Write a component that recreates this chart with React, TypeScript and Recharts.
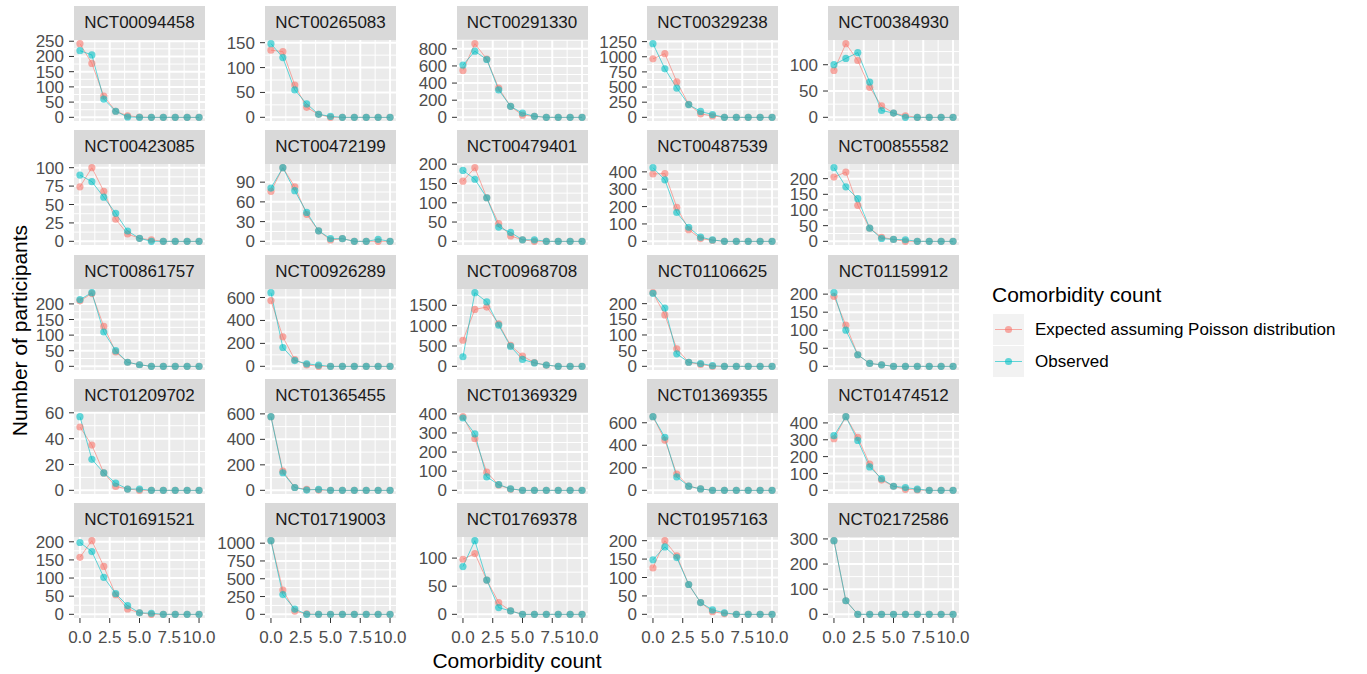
import React from 'react';
import { LineChart, Line, XAxis, YAxis, CartesianGrid } from 'recharts';

// comorbidity count on the x axis (same for every trial)
const comorbidityCounts = [0, 1, 2, 3, 4, 5, 6, 7, 8, 9, 10];
const xTicks = [0, 2.5, 5, 7.5, 10];
const xMinorTicks = [1.25, 3.75, 6.25, 8.75];

// expected (Poisson) vs observed participant counts, one pair per trial
const exp00094458 = [242, 177, 70, 20, 5, 1, 0, 0, 0, 0, 0];
const obs00094458 = [219, 205, 60, 20, 1, 0, 0, 0, 0, 0, 0];
const ticks00094458 = [0, 50, 100, 150, 200, 250];

const exp00265083 = [135, 132, 65, 20, 6, 0, 0, 0, 0, 0, 0];
const obs00265083 = [148, 120, 55, 27, 6, 2, 0, 0, 0, 0, 0];
const ticks00265083 = [0, 50, 100, 150];

const exp00291330 = [548, 860, 680, 340, 128, 25, 12, 0, 0, 0, 0];
const obs00291330 = [610, 772, 675, 320, 128, 48, 12, 0, 0, 0, 0];
const ticks00291330 = [0, 200, 400, 600, 800];

const exp00329238 = [966, 1051, 585, 215, 57, 23, 0, 0, 0, 0, 0];
const obs00329238 = [1216, 801, 483, 210, 97, 45, 0, 0, 0, 0, 0];
const ticks00329238 = [0, 250, 500, 750, 1000, 1250];

const exp00384930 = [89, 140, 108, 57, 22, 8, 3, 0, 0, 0, 0];
const obs00384930 = [100, 112, 123, 67, 13, 8, 0, 0, 0, 0, 0];
const ticks00384930 = [0, 50, 100];

const exp00423085 = [74, 100, 68, 30, 10, 4, 2, 0, 0, 0, 0];
const obs00423085 = [90, 81, 60, 38, 14, 4, 0, 0, 0, 0, 0];
const ticks00423085 = [0, 25, 50, 75, 100];

const exp00472199 = [76, 112, 83, 41, 16, 2, 4, 0, 0, 0, 0];
const obs00472199 = [81, 112, 77, 44, 16, 4, 4, 0, 0, 3, 0];
const ticks00472199 = [0, 30, 60, 90];

const exp00479401 = [156, 191, 113, 46, 14, 4, 0, 0, 0, 0, 0];
const obs00479401 = [184, 161, 113, 37, 23, 4, 4, 0, 0, 0, 0];
const ticks00479401 = [0, 50, 100, 150, 200];

const exp00487539 = [388, 390, 196, 67, 16, 6, 0, 0, 0, 0, 0];
const obs00487539 = [424, 354, 166, 81, 24, 8, 0, 0, 0, 0, 0];
const ticks00487539 = [0, 100, 200, 300, 400];

const exp00855582 = [205, 221, 115, 42, 13, 6, 0, 0, 0, 0, 0];
const obs00855582 = [235, 174, 136, 42, 9, 6, 5, 0, 0, 0, 0];
const ticks00855582 = [0, 50, 100, 150, 200];

const exp00861757 = [210, 233, 128, 46, 13, 5, 0, 0, 0, 0, 0];
const obs00861757 = [214, 236, 110, 50, 13, 5, 0, 0, 0, 0, 0];
const ticks00861757 = [0, 50, 100, 150, 200];

const exp00926289 = [573, 257, 58, 12, 0, 0, 0, 0, 0, 0, 0];
const obs00926289 = [642, 164, 50, 22, 10, 0, 0, 0, 0, 0, 0];
const ticks00926289 = [0, 200, 400, 600];

const exp00968708 = [641, 1400, 1458, 1045, 514, 253, 90, 28, 0, 0, 0];
const obs00968708 = [236, 1812, 1585, 1012, 489, 169, 84, 30, 0, 0, 0];
const ticks00968708 = [0, 500, 1000, 1500];

const exp01106625 = [235, 164, 56, 13, 6, 0, 0, 0, 0, 0, 0];
const obs01106625 = [233, 186, 40, 13, 9, 2, 0, 0, 0, 0, 0];
const ticks01106625 = [0, 50, 100, 150, 200];

const exp01159912 = [194, 114, 32, 8, 4, 0, 0, 0, 0, 0, 0];
const obs01159912 = [204, 100, 32, 8, 4, 0, 0, 0, 0, 0, 0];
const ticks01159912 = [0, 50, 100, 150, 200];

const exp01209702 = [49, 35, 13.5, 3, 1, 0, 0, 0, 0, 0, 0];
const obs01209702 = [57, 24, 13.5, 5.5, 1, 1, 0, 0, 0, 0, 0];
const ticks01209702 = [0, 20, 40, 60];

const exp01365455 = [578, 150, 22, 8, 2, 0, 0, 0, 0, 0, 0];
const obs01365455 = [578, 138, 22, 2, 8, 0, 0, 0, 0, 0, 0];
const ticks01365455 = [0, 200, 400, 600];

const exp01369329 = [385, 270, 95, 28, 6, 0, 0, 0, 0, 0, 0];
const obs01369329 = [378, 295, 70, 30, 8, 0, 0, 0, 0, 0, 0];
const ticks01369329 = [0, 100, 200, 300, 400];

const exp01369355 = [654, 446, 144, 37, 12, 0, 0, 0, 0, 0, 0];
const obs01369355 = [654, 471, 119, 37, 12, 0, 0, 0, 0, 0, 0];
const ticks01369355 = [0, 200, 400, 600];

const exp01474512 = [306, 437, 314, 155, 61, 24, 6, 2, 0, 0, 0];
const obs01474512 = [324, 437, 296, 139, 69, 24, 16, 7, 0, 0, 0];
const ticks01474512 = [0, 100, 200, 300, 400];

const exp01691521 = [157, 203, 132, 54, 15, 4, 0, 0, 0, 0, 0];
const obs01691521 = [198, 173, 102, 57, 24, 4, 3, 0, 0, 0, 0];
const ticks01691521 = [0, 50, 100, 150, 200];

const exp01719003 = [1035, 342, 45, 5, 0, 0, 0, 0, 0, 0, 0];
const obs01719003 = [1035, 277, 74, 0, 0, 0, 0, 0, 0, 0, 0];
const ticks01719003 = [0, 250, 500, 750, 1000];

const exp01769378 = [98, 108, 61, 21, 6, 0, 0, 0, 0, 0, 0];
const obs01769378 = [85, 131, 61, 12, 6, 0, 0, 0, 0, 0, 0];
const ticks01769378 = [0, 50, 100];

const exp01957163 = [126, 200, 159, 81, 32, 7, 2, 0, 0, 0, 0];
const obs01957163 = [148, 183, 154, 81, 32, 12, 4, 0, 0, 0, 0];
const ticks01957163 = [0, 50, 100, 150, 200];

const exp02172586 = [293, 54, 0, 0, 0, 0, 0, 0, 0, 0, 0];
const obs02172586 = [293, 54, 0, 0, 0, 0, 0, 0, 0, 0, 0];
const ticks02172586 = [0, 100, 200, 300];

const trials = [
  { id: 'NCT00094458', expected: exp00094458, observed: obs00094458, ticks: ticks00094458 },
  { id: 'NCT00265083', expected: exp00265083, observed: obs00265083, ticks: ticks00265083 },
  { id: 'NCT00291330', expected: exp00291330, observed: obs00291330, ticks: ticks00291330 },
  { id: 'NCT00329238', expected: exp00329238, observed: obs00329238, ticks: ticks00329238 },
  { id: 'NCT00384930', expected: exp00384930, observed: obs00384930, ticks: ticks00384930 },
  { id: 'NCT00423085', expected: exp00423085, observed: obs00423085, ticks: ticks00423085 },
  { id: 'NCT00472199', expected: exp00472199, observed: obs00472199, ticks: ticks00472199 },
  { id: 'NCT00479401', expected: exp00479401, observed: obs00479401, ticks: ticks00479401 },
  { id: 'NCT00487539', expected: exp00487539, observed: obs00487539, ticks: ticks00487539 },
  { id: 'NCT00855582', expected: exp00855582, observed: obs00855582, ticks: ticks00855582 },
  { id: 'NCT00861757', expected: exp00861757, observed: obs00861757, ticks: ticks00861757 },
  { id: 'NCT00926289', expected: exp00926289, observed: obs00926289, ticks: ticks00926289 },
  { id: 'NCT00968708', expected: exp00968708, observed: obs00968708, ticks: ticks00968708 },
  { id: 'NCT01106625', expected: exp01106625, observed: obs01106625, ticks: ticks01106625 },
  { id: 'NCT01159912', expected: exp01159912, observed: obs01159912, ticks: ticks01159912 },
  { id: 'NCT01209702', expected: exp01209702, observed: obs01209702, ticks: ticks01209702 },
  { id: 'NCT01365455', expected: exp01365455, observed: obs01365455, ticks: ticks01365455 },
  { id: 'NCT01369329', expected: exp01369329, observed: obs01369329, ticks: ticks01369329 },
  { id: 'NCT01369355', expected: exp01369355, observed: obs01369355, ticks: ticks01369355 },
  { id: 'NCT01474512', expected: exp01474512, observed: obs01474512, ticks: ticks01474512 },
  { id: 'NCT01691521', expected: exp01691521, observed: obs01691521, ticks: ticks01691521 },
  { id: 'NCT01719003', expected: exp01719003, observed: obs01719003, ticks: ticks01719003 },
  { id: 'NCT01769378', expected: exp01769378, observed: obs01769378, ticks: ticks01769378 },
  { id: 'NCT01957163', expected: exp01957163, observed: obs01957163, ticks: ticks01957163 },
  { id: 'NCT02172586', expected: exp02172586, observed: obs02172586, ticks: ticks02172586 },
];

// layout (page pixels)
const FONT = '"Liberation Sans", Arial, sans-serif';
const RED = '#F8766D';
const TEAL = '#00BFC4';
const COL_LEFT = [74, 265, 456.5, 647, 828];
const ROW_TOP = [6, 130.25, 254.5, 378.75, 503];
const PLOT_W = 131;
const PLOT_H = 81;
const STRIP_H = 34;
const AXIS_W = 60;
const XAXIS_H = 34;
const PAD_TOP = 12; // room above the plot for the top tick label
const PAD_BOTTOM = 12; // room below the plot for the "0" label
const PAD_RIGHT = 22; // room for the "10.0" label

function Panel({ trial, left, top, showX }: any) {
  const rows = comorbidityCounts.map((c, i) => ({
    count: c,
    expected: trial.expected[i],
    observed: trial.observed[i],
  }));
  const maxVal = Math.max(...trial.expected, ...trial.observed);
  const pad = maxVal * 0.05;
  const yDomain = [-pad, maxVal + pad];
  const step = trial.ticks[1] - trial.ticks[0];
  const yMinor = [trial.ticks[0] - step / 2, ...trial.ticks.map((t: number) => t + step / 2)]
    .filter((v: number) => v > yDomain[0] && v < yDomain[1]);
  const bottomPad = showX ? 0 : PAD_BOTTOM;

  return (
    <div style={{ position: 'absolute', left: left - AXIS_W, top }}>
      <div
        style={{
          position: 'absolute',
          left: AXIS_W,
          top: 0,
          width: PLOT_W,
          height: STRIP_H,
          background: '#D9D9D9',
          color: '#1A1A1A',
          fontSize: 17,
          lineHeight: STRIP_H + 'px',
          textAlign: 'center',
        }}
      >
        {trial.id}
      </div>
      <div style={{ position: 'absolute', left: 0, top: STRIP_H - PAD_TOP }}>
        <LineChart
          width={AXIS_W + PLOT_W + PAD_RIGHT}
          height={PAD_TOP + PLOT_H + (showX ? XAXIS_H : bottomPad)}
          data={rows}
          margin={{ top: PAD_TOP, right: PAD_RIGHT, bottom: bottomPad, left: 0 }}
        >
          <CartesianGrid
            fill="#EBEBEB"
            stroke="#FFFFFF"
            strokeWidth={1}
            horizontalValues={yMinor}
            verticalValues={xMinorTicks}
          />
          <CartesianGrid
            stroke="#FFFFFF"
            strokeWidth={2}
            horizontalValues={trial.ticks}
            verticalValues={xTicks}
          />
          <XAxis
            type="number"
            dataKey="count"
            domain={[-0.5, 10.5]}
            ticks={xTicks}
            interval={0}
            hide={!showX}
            height={XAXIS_H}
            axisLine={false}
            tickSize={5}
            tickMargin={8}
            tickLine={{ stroke: '#333333' }}
            tick={{ fill: '#4D4D4D', fontSize: 17 }}
            tickFormatter={(v: number) => v.toFixed(1)}
          />
          <YAxis
            type="number"
            domain={yDomain}
            ticks={trial.ticks}
            interval={0}
            width={AXIS_W}
            axisLine={false}
            tickSize={5}
            tickMargin={5}
            tickLine={{ stroke: '#333333' }}
            tick={{ fill: '#4D4D4D', fontSize: 17 }}
          />
          <Line
            type="linear"
            dataKey="expected"
            stroke={RED}
            strokeOpacity={0.6}
            strokeWidth={1}
            dot={{ r: 3.6, fill: RED, fillOpacity: 0.6, stroke: 'none' }}
            activeDot={false}
            isAnimationActive={false}
          />
          <Line
            type="linear"
            dataKey="observed"
            stroke={TEAL}
            strokeOpacity={0.6}
            strokeWidth={1}
            dot={{ r: 3.6, fill: TEAL, fillOpacity: 0.6, stroke: 'none' }}
            activeDot={false}
            isAnimationActive={false}
          />
        </LineChart>
      </div>
    </div>
  );
}

function LegendKey({ color }: { color: string }) {
  return (
    <svg width={31} height={31} style={{ display: 'block' }}>
      <rect x={0} y={0} width={31} height={31} fill="#F2F2F2" />
      <line x1={2} y1={15.5} x2={29} y2={15.5} stroke={color} strokeOpacity={0.6} strokeWidth={1} />
      <circle cx={15.5} cy={15.5} r={3.6} fill={color} fillOpacity={0.6} />
    </svg>
  );
}

export default function App() {
  return (
    <div
      style={{
        position: 'absolute',
        left: 0,
        top: 0,
        width: 1367,
        height: 674,
        background: '#FFFFFF',
        fontFamily: FONT,
      }}
    >
      {trials.map((trial, i) => (
        <Panel
          key={trial.id}
          trial={trial}
          left={COL_LEFT[i % 5]}
          top={ROW_TOP[Math.floor(i / 5)]}
          showX={Math.floor(i / 5) === 4}
        />
      ))}

      {/* y axis title */}
      <div
        style={{
          position: 'absolute',
          left: 19 - 150,
          top: 330 - 10.5,
          width: 300,
          height: 21,
          lineHeight: '21px',
          fontSize: 21,
          color: '#000000',
          textAlign: 'center',
          transform: 'rotate(-90deg)',
        }}
      >
        Number of participants
      </div>

      {/* x axis title */}
      <div
        style={{
          position: 'absolute',
          left: 517 - 150,
          top: 650,
          width: 300,
          lineHeight: '21px',
          fontSize: 21,
          color: '#000000',
          textAlign: 'center',
        }}
      >
        Comorbidity count
      </div>

      {/* legend */}
      <div style={{ position: 'absolute', left: 992, top: 284, fontSize: 21, lineHeight: '21px', color: '#000000' }}>
        Comorbidity count
      </div>
      <div style={{ position: 'absolute', left: 993, top: 314 }}>
        <LegendKey color={RED} />
      </div>
      <div style={{ position: 'absolute', left: 993, top: 346 }}>
        <LegendKey color={TEAL} />
      </div>
      <div style={{ position: 'absolute', left: 1035, top: 314, fontSize: 17, lineHeight: '31px', color: '#000000' }}>
        Expected assuming Poisson distribution
      </div>
      <div style={{ position: 'absolute', left: 1035, top: 346, fontSize: 17, lineHeight: '31px', color: '#000000' }}>
        Observed
      </div>
    </div>
  );
}
